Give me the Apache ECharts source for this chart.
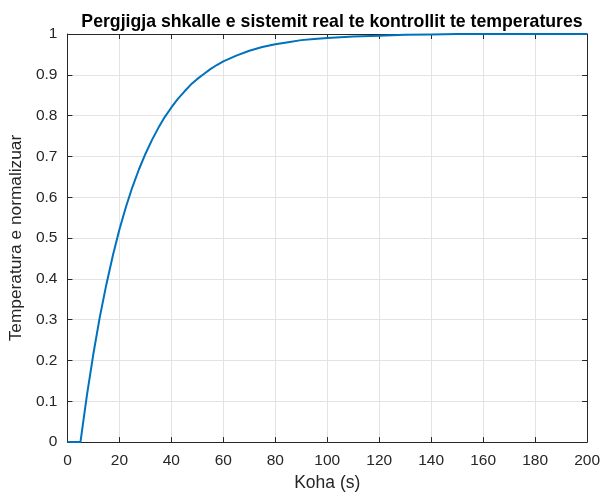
<!DOCTYPE html>
<html>
<head>
<meta charset="utf-8">
<script src="https://cdn.jsdelivr.net/npm/echarts@6/dist/echarts.min.js"></script>
<style>
  html, body { margin: 0; padding: 0; background: #fff; }
  #chart { width: 603px; height: 497px; }
</style>
</head>
<body>
<div id="chart"></div>
<script>
// Step response of the temperature control system (normalized)
const timeSec = [0, 5, 7.5, 10, 12.5, 15, 17.5, 20, 22.5, 25, 27.5, 30, 32.5, 35, 37.5, 40,
                 42.5, 45, 47.5, 50, 52.5, 55, 57.5, 60, 65, 70, 75, 80, 85, 90, 95, 100,
                 110, 120, 130, 140, 150, 160, 170, 180, 190, 200];
const tempNorm = [0, 0, 0.115, 0.217, 0.308, 0.387, 0.458, 0.521, 0.576, 0.625, 0.668, 0.706,
                  0.740, 0.770, 0.797, 0.820, 0.841, 0.859, 0.876, 0.890, 0.902, 0.914, 0.924,
                  0.933, 0.947, 0.959, 0.968, 0.975, 0.980, 0.985, 0.988, 0.990,
                  0.994, 0.996, 0.998, 0.999, 1.0, 1.0, 1.0, 1.0, 1.0, 1.0];
const xTicks = [0, 20, 40, 60, 80, 100, 120, 140, 160, 180, 200];
const yTicks = [0, 0.1, 0.2, 0.3, 0.4, 0.5, 0.6, 0.7, 0.8, 0.9, 1];

const titleText = 'Pergjigja shkalle e sistemit real te kontrollit te temperatures';
const xName = 'Koha (s)';
const yName = 'Temperatura e normalizuar';

const axisColor = '#262626';
const gridColor = '#e3e3e3';
const font = '"Liberation Sans", Arial, sans-serif';

const chart = echarts.init(document.getElementById('chart'));

function axisBase() {
  return {
    type: 'value',
    axisLine: { show: true, onZero: false, lineStyle: { color: axisColor, width: 1 } },
    axisTick: { show: true, inside: true, length: 5, lineStyle: { color: axisColor } },
    splitLine: { show: true, lineStyle: { color: gridColor, width: 1 } },
    axisLabel: { color: axisColor, fontFamily: font, fontSize: 15.5 }
  };
}

chart.setOption({
  animation: false,
  backgroundColor: '#fff',
  title: {
    text: titleText,
    left: 327, top: 8, textAlign: 'center',
    textStyle: { fontFamily: font, fontSize: 17.7, fontWeight: 'bold', color: '#000' }
  },
  grid: { left: 65, right: 13, top: 34, bottom: 49, containLabel: false },
  xAxis: [
    Object.assign(axisBase(), {
      min: xTicks[0], max: xTicks[xTicks.length - 1], interval: 20,
      name: xName, nameLocation: 'middle', nameGap: 30,
      nameTextStyle: { color: axisColor, fontFamily: font, fontSize: 17.5 },
      axisLabel: { color: axisColor, fontFamily: font, fontSize: 15.5, margin: 11 }
    }),
    Object.assign(axisBase(), {
      position: 'top', min: 0, max: 200, interval: 20,
      axisLabel: { show: false }, splitLine: { show: false }
    })
  ],
  yAxis: [
    Object.assign(axisBase(), {
      min: yTicks[0], max: yTicks[yTicks.length - 1], interval: 0.1,
      name: yName, nameLocation: 'middle', nameGap: 37,
      nameTextStyle: { color: axisColor, fontFamily: font, fontSize: 17.3 },
      axisLabel: { color: axisColor, fontFamily: font, fontSize: 15.5, margin: 10,
                   formatter: v => String(+v.toFixed(1)) }
    }),
    Object.assign(axisBase(), {
      position: 'right', min: 0, max: 1, interval: 0.1,
      axisLabel: { show: false }, splitLine: { show: false }
    })
  ],
  series: [{
    type: 'line',
    data: timeSec.map((t, i) => [t, tempNorm[i]]),
    smooth: false,
    showSymbol: false,
    lineStyle: { color: '#0072BD', width: 2 },
    clip: true
  }]
});
</script>
</body>
</html>
